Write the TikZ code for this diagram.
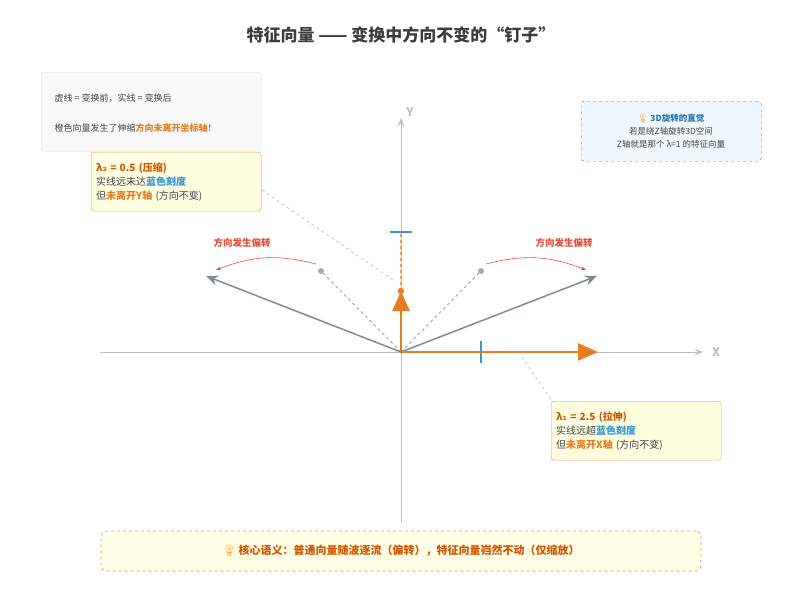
\documentclass[tikz,border=0pt]{standalone}
\usepackage{fontspec}
\setmainfont{Noto Sans CJK SC}
\newfontfamily\symfont{DejaVu Sans}
\newfontfamily\emofont{Noto Emoji}
\usetikzlibrary{positioning,arrows.meta}
\definecolor{vorange}{HTML}{E67E22}
\definecolor{dorange}{HTML}{D35400}
\definecolor{vblue}{HTML}{3498DB}
\definecolor{vgray}{HTML}{7F8C8D}
\definecolor{vred}{HTML}{E74C3C}
\definecolor{txt}{HTML}{444444}
\newcommand{\bulb}{{\emofont\textcolor{orange!80!yellow}{💡}}}
\begin{document}
\begin{tikzpicture}[x=1pt,y=-1pt,
    note/.style={draw=gray!25, fill=gray!5, rounded corners=3pt, anchor=north west, minimum width=220pt, minimum height=79pt},
    lambox/.style={draw=vorange!80, fill=yellow!12, rounded corners=3pt, anchor=north west, minimum width=170pt, minimum height=59pt, align=left, text width=160pt, font=\fontsize{10}{14}\selectfont, text=txt},
    axis/.style={draw=gray!50, -{Stealth[length=8pt]}},
    eigvec/.style={vorange, line width=2.6pt, -{Triangle[length=20pt,width=17pt]}},
    ordvec/.style={vgray, line width=1.5pt, -{Stealth[length=12pt,width=10pt]}},
    before/.style={vgray!80, dashed, line width=0.9pt},
    leader/.style={gray!50, dashed, line width=0.7pt},
    turn/.style={vred, line width=0.6pt, -{Stealth[length=5pt]}},
    turnlbl/.style={vred, font=\bfseries\fontsize{9.5}{11}\selectfont},
    tick/.style={vblue, line width=1.8pt}
]
\useasboundingbox (0,0) rectangle (803,603);
\node[font=\bfseries\fontsize{17}{20}\selectfont, text=txt!90!black] (title) at (401,35) {特征向量 —— 变换中方向不变的“钉子”};
% axes
\coordinate (o) at (401,352);
\coordinate (xl) at (100,352);
\coordinate (xr) at (703,352);
\coordinate (yd) at (401,522);
\coordinate (yu) at (401,118);
\draw[axis] (xl) -- (xr);
\draw[axis] (yd) -- (yu);
\node[text=gray!50, font=\bfseries\fontsize{12}{14}\selectfont] (xlab) at (716,352) {X};
\node[text=gray!50, font=\bfseries\fontsize{12}{14}\selectfont] (ylab) at (410,112) {Y};
% leaders
\coordinate (l2a) at (262,190);
\coordinate (l2b) at (396,282);
\coordinate (l1a) at (522,357);
\coordinate (l1b) at (552,401);
\draw[leader] (l2a) -- (l2b);
\draw[leader] (l1a) -- (l1b);
% ordinary vectors
\coordinate (pl) at (321,271);
\coordinate (pr) at (481,271);
\coordinate (ql) at (206,276);
\coordinate (qr) at (597,276);
\draw[before] (o) -- (pl);
\draw[before] (o) -- (pr);
\fill[vgray!70] (pl) circle (3pt) (pr) circle (3pt);
\draw[ordvec] (o) -- (ql);
\draw[ordvec] (o) -- (qr);
\coordinate (al) at (316,264);
\coordinate (bl) at (216,270);
\coordinate (ar) at (486,264);
\coordinate (br) at (586,270);
\draw[turn] (al) to[bend right=18] (bl);
\draw[turn] (ar) to[bend left=18] (br);
\node[turnlbl] (tl) at (242,243) {方向发生偏转};
\node[turnlbl] (tr) at (564,243) {方向发生偏转};
% eigenvectors
\coordinate (e2) at (401,291);
\coordinate (e2t) at (401,232);
\coordinate (e1) at (598,352);
\draw[vorange!80, dashed, line width=1.6pt] (e2) -- (e2t);
\draw[tick] (390,232) -- (412,232);
\draw[tick] (481,341) -- (481,363);
\draw[eigvec] (o) -- (e1);
\draw[eigvec] (o) -- (e2);
\fill[vorange] (e2) circle (3.2pt);
\fill[vgray] (o) circle (1.5pt);
% boxes
\node[note] (legend) at (41,72) {};
\node[anchor=west, text=txt, font=\fontsize{9}{11}\selectfont] (leg1) at (51,98) {虚线 = 变换前，实线 = 变换后};
\node[anchor=west, text=txt, font=\fontsize{9}{11}\selectfont] (leg2) at (51,128) {橙色向量发生了伸缩\textcolor{vorange}{\bfseries 方向未离开坐标轴}！};
\node[lambox] (lam2) at (91,152) {\textcolor{dorange}{\bfseries λ{\symfont ₂} = 0.5 (压缩)}\\实线远未达\textcolor{vblue}{\bfseries 蓝色刻度}\\但\textcolor{vorange}{\bfseries 未离开Y轴} (方向不变)};
\node[lambox] (lam1) at (551,401) {\textcolor{dorange}{\bfseries λ{\symfont ₁} = 2.5 (拉伸)}\\实线远超\textcolor{vblue}{\bfseries 蓝色刻度}\\但\textcolor{vorange}{\bfseries 未离开X轴} (方向不变)};
\node[draw=vblue!80!black, dashed, fill=vblue!8, rounded corners=3pt, anchor=north west, minimum width=180pt, minimum height=60pt] (rot) at (581,101) {};
\node[align=center, text=txt, font=\fontsize{8.5}{13}\selectfont] (rottxt) at (671,131) {\textcolor{vblue!80!black}{\bulb\ \bfseries 3D旋转的直觉}\\若是绕Z轴旋转3D空间\\Z轴就是那个 λ=1 的特征向量};
\node[draw=vorange!80, dashed, fill=yellow!10, rounded corners=5pt, line width=0.8pt, minimum width=600pt, minimum height=40pt, text=dorange, font=\bfseries\fontsize{11}{13}\selectfont] (core) at (401,551) {\bulb\ 核心语义：普通向量随波逐流（偏转），特征向量岿然不动（仅缩放）};
\end{tikzpicture}
\end{document}
